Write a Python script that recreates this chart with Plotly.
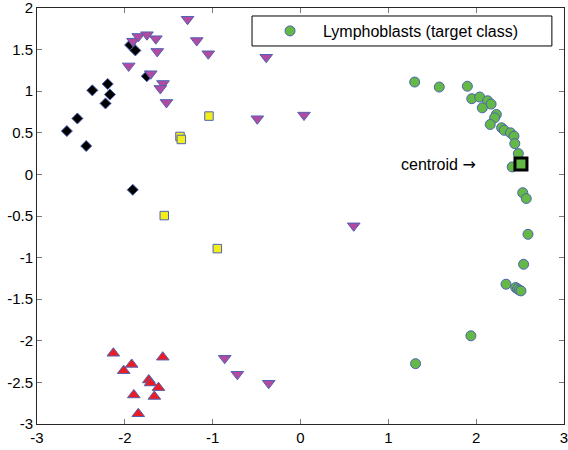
import plotly.graph_objects as go

# ---- data -------------------------------------------------------------
lympho_x = [1.30, 1.58, 1.90, 1.95, 2.04, 2.13, 2.17, 2.07, 2.23, 2.21,
            2.16, 2.29, 2.32, 2.39, 2.43, 2.44, 2.48, 2.41, 2.53, 2.57,
            2.59, 2.54, 2.34, 2.45, 2.47, 2.49, 2.51, 1.94, 1.31]
lympho_y = [1.11, 1.05, 1.06, 0.91, 0.93, 0.885, 0.845, 0.80, 0.72, 0.68,
            0.60, 0.56, 0.53, 0.50, 0.46, 0.37, 0.25, 0.09, -0.22, -0.29,
            -0.72, -1.08, -1.32, -1.36, -1.375, -1.39, -1.40, -1.94, -2.275]

black_x = [-1.94, -1.88, -1.75, -2.195, -2.37, -2.17, -2.22, -2.54, -2.66, -2.44, -1.91]
black_y = [1.555, 1.49, 1.18, 1.087, 1.01, 0.96, 0.853, 0.672, 0.521, 0.341, -0.185]

purple_x = [-1.286, -1.907, -1.847, -1.748, -1.647, -1.631, -1.956, -1.705, -1.565,
            -1.596, -1.526, -1.181, -1.050, -0.390, -0.492, 0.040, 0.606,
            -0.863, -0.719, -0.362]
purple_y = [1.865, 1.601, 1.658, 1.679, 1.631, 1.478, 1.304, 1.210, 1.093,
            1.033, 0.865, 1.609, 1.450, 1.408, 0.669, 0.713, -0.618,
            -2.210, -2.402, -2.510]

yellow_x = [-1.372, -1.357, -1.042, -1.551, -0.947]
yellow_y = [0.456, 0.420, 0.701, -0.495, -0.892]

red_x = [-2.131, -2.013, -1.922, -1.568, -1.727, -1.708, -1.617, -1.898, -1.664, -1.847]
red_y = [-2.150, -2.359, -2.284, -2.197, -2.471, -2.507, -2.563, -2.651, -2.669, -2.877]

centroid_x = [2.51]
centroid_y = [0.124]

x_ticks = [-3, -2, -1, 0, 1, 2, 3]
y_ticks = [-3, -2.5, -2, -1.5, -1, -0.5, 0, 0.5, 1, 1.5, 2]

EDGE = "#4f62b3"
FONT = "Liberation Sans, Arial, sans-serif"

fig = go.Figure()


def scatter(x, y, symbol, size, fill, name=None, legend=False):
    fig.add_trace(go.Scatter(
        x=x, y=y, mode="markers", name=name or "", showlegend=legend,
        marker=dict(symbol=symbol, size=size, color=fill,
                    line=dict(color=EDGE, width=1)),
        hoverinfo="x+y",
    ))


scatter(black_x, black_y, "diamond", 8.5, "#000000")
scatter(yellow_x, yellow_y, "square", 8.5, "#f2ee1c")
scatter(red_x, red_y, "triangle-up", 11, "#ec1c24")
scatter(purple_x, purple_y, "triangle-down", 11, "#b24aa2")
scatter(lympho_x, lympho_y, "circle", 10, "#63b846",
        name="Lymphoblasts (target class)", legend=True)

# class centroid
fig.add_trace(go.Scatter(
    x=centroid_x, y=centroid_y, mode="markers", showlegend=False,
    marker=dict(symbol="square", size=12, color="#63b846",
                line=dict(color="#000000", width=3)),
))

fig.add_annotation(x=2.02, y=centroid_y[0],
                   text="centroid <span style='font-family:DejaVu Sans'>\u2192</span>",
                   showarrow=False, xanchor="right", yanchor="middle",
                   font=dict(family=FONT, size=16, color="#000000"))

axis_common = dict(
    showgrid=False, zeroline=False, showline=True, mirror="ticks",
    linecolor="#262626", linewidth=1, ticks="inside", ticklen=5,
    tickcolor="#7a7a7a", tickwidth=1, ticklabeloverflow="allow",
    automargin=False,
    tickfont=dict(family=FONT, size=15, color="#000000"),
)
fig.update_xaxes(range=[-3, 3], tickvals=x_ticks,
                 ticktext=[f"{v:g}" for v in x_ticks], **axis_common)
fig.update_yaxes(range=[-3, 2], tickvals=y_ticks,
                 ticktext=[f"{v:g}" for v in y_ticks], **axis_common)

# legend frame
fig.add_shape(type="rect", xref="paper", yref="paper",
              x0=0.408, x1=0.977, y0=0.9087, y1=0.9808,
              line=dict(color="#000000", width=1), fillcolor="#ffffff",
              layer="above")

fig.update_layout(
    width=568, height=450,
    margin=dict(l=37, r=4, t=8, b=26, autoexpand=False),
    plot_bgcolor="#ffffff", paper_bgcolor="#ffffff",
    font=dict(family=FONT, size=16, color="#000000"),
    legend=dict(x=0.4175, y=0.9447, xanchor="left", yanchor="middle",
                bgcolor="rgba(0,0,0,0)", borderwidth=0, itemwidth=56,
                font=dict(family=FONT, size=16, color="#000000")),
)

fig.write_html("out.html")
